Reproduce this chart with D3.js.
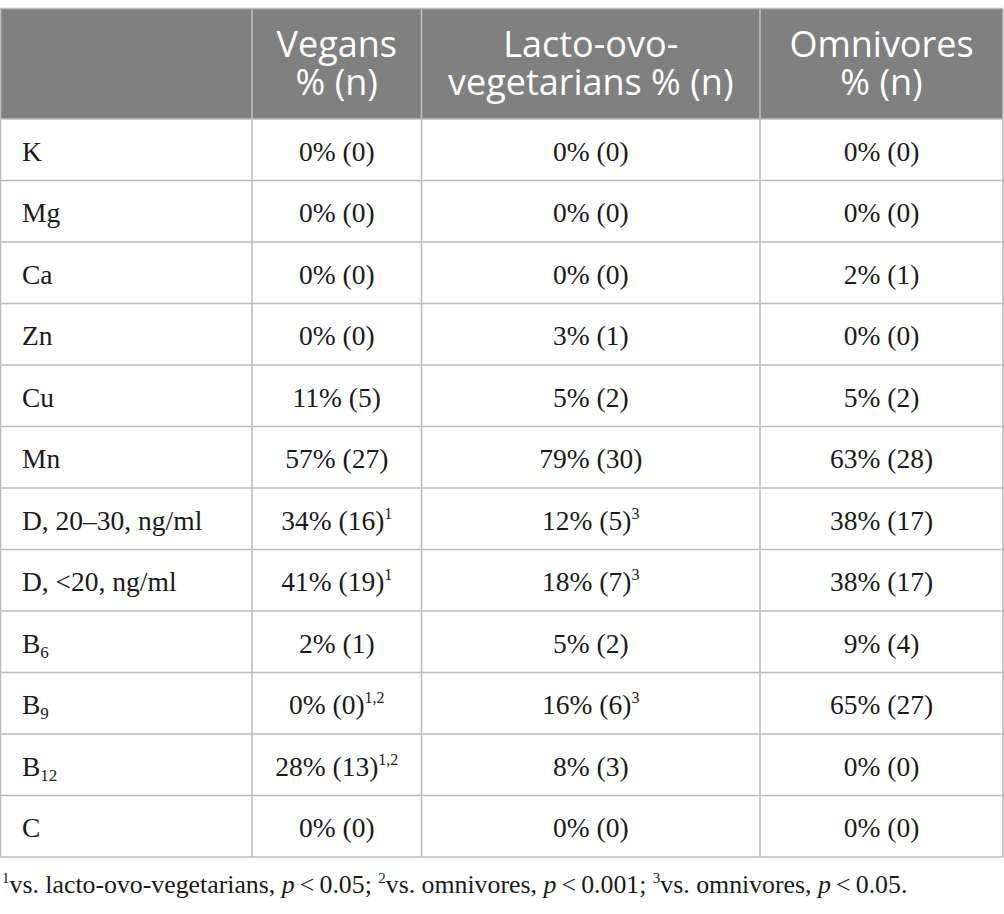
<!DOCTYPE html>
<html><head><meta charset="utf-8">
<script src="https://cdn.jsdelivr.net/npm/d3@7"></script>
<style>body{margin:0;background:#fff}svg{display:block}</style>
</head><body>
<script>
const headers = [["", ""], ["Vegans", "% (n)"], ["Lacto-ovo-", "vegetarians % (n)"], ["Omnivores", "% (n)"]];
const nutrients = ["K","Mg","Ca","Zn","Cu","Mn","D, 20–30, ng/ml","D, <20, ng/ml","B","B","B","C"];
const nutrientSub = ["","","","","","","","","6","9","12",""];
const veganPct = [0,0,0,0,11,57,34,41,2,0,28,0];
const veganN   = [0,0,0,0,5,27,16,19,1,0,13,0];
const veganSup = ["","","","","","","1","1","","1,2","1,2",""];
const lactoPct = [0,0,0,3,5,79,12,18,5,16,8,0];
const lactoN   = [0,0,0,1,2,30,5,7,2,6,3,0];
const lactoSup = ["","","","","","","3","3","","3","",""];
const omniPct  = [0,0,2,0,5,63,38,38,9,65,0,0];
const omniN    = [0,0,1,0,2,28,17,17,4,27,0,0];
const omniSup  = ["","","","","","","","","","","",""];
const footnotes = [
  {sup:"1", text:"vs. lacto-ovo-vegetarians, ", p:"0.05; "},
  {sup:"2", text:"vs. omnivores, ", p:"0.001; "},
  {sup:"3", text:"vs. omnivores, ", p:"0.05."}
];

const W = 1004, H = 914;
const colEdges = [0.5, 252, 421.5, 760, 1003];
const tableTop = 8.5, headBottom = 119, tableBottom = 857;
const lineColor = "#bdbdbd";
const serif = "'Liberation Serif', 'Times New Roman', serif";
const sans = "'Open Sans', 'Noto Sans', sans-serif";

const svg = d3.select("body").append("svg").attr("width", W).attr("height", H);
const y = d3.scaleBand().domain(d3.range(nutrients.length)).range([headBottom, tableBottom]);
const cx = i => (colEdges[i] + colEdges[i+1]) / 2;

// header background
svg.append("rect").attr("x", colEdges[0]).attr("y", tableTop).attr("width", colEdges[4]-colEdges[0]).attr("height", headBottom-tableTop).attr("fill", "#808080");

// header text
headers.forEach((h, i) => {
  if (!h[0]) return;
  const t = svg.append("text").attr("text-anchor","middle")
    .attr("font-family", sans).attr("font-size", 36).attr("fill", "#fff");
  t.append("tspan").attr("x", cx(i)).attr("y", 57).text(h[0]);
  t.append("tspan").attr("x", cx(i)).attr("y", 95).text(h[1]);
});

// rows
const cols = [[veganPct, veganN, veganSup],[lactoPct, lactoN, lactoSup],[omniPct, omniN, omniSup]];
nutrients.forEach((name, r) => {
  const base = y(r) + y.bandwidth()/2 + 11;
  const lt = svg.append("text").attr("x", 22).attr("y", base).attr("font-family", serif).attr("font-size", 27.5).attr("fill", "#1a1a1a");
  lt.append("tspan").text(name);
  if (nutrientSub[r]) lt.append("tspan").attr("font-size", 17).attr("dy", 5).text(nutrientSub[r]);
  cols.forEach((c, ci) => {
    const t = svg.append("text").attr("x", cx(ci+1)).attr("y", base).attr("text-anchor","middle")
      .attr("font-family", serif).attr("font-size", 27.5).attr("fill", "#1a1a1a");
    t.append("tspan").text(`${c[0][r]}% (${c[1][r]})`);
    if (c[2][r]) t.append("tspan").attr("font-size", 16).attr("dy", -11).text(c[2][r]);
  });
});

// grid lines
const g = svg.append("g").attr("stroke", lineColor).attr("stroke-width", 1.6).attr("fill", "none");
[tableTop, ...y.domain().map(d => y(d)), tableBottom].forEach(v => {
  g.append("line").attr("x1", colEdges[0]).attr("x2", colEdges[4]).attr("y1", v).attr("y2", v);
});
colEdges.forEach(v => {
  g.append("line").attr("x1", v).attr("x2", v).attr("y1", tableTop).attr("y2", tableBottom);
});

// footnote
const ft = svg.append("text").attr("x", 2).attr("y", 893).attr("font-family", serif).attr("font-size", 25.8).attr("fill", "#1a1a1a");
footnotes.forEach(f => {
  ft.append("tspan").attr("font-size", 15).attr("dy", -10).text(f.sup);
  ft.append("tspan").attr("dy", 10).text(f.text);
  ft.append("tspan").attr("font-style", "italic").text("p");
  ft.append("tspan").text("\u2009<\u2009" + f.p);
});
</script>
</body></html>
